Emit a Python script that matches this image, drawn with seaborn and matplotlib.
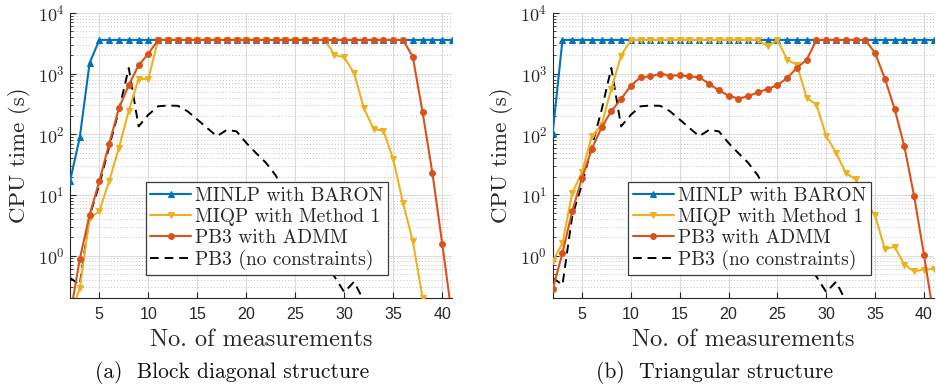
import numpy as np
import pandas as pd
import seaborn as sns
import matplotlib
matplotlib.use("Agg")
import matplotlib.pyplot as plt
from matplotlib.ticker import LogLocator, NullFormatter, FixedLocator

# ---------------- data ----------------
x_all = list(range(2, 42))

# (a) block diagonal structure
a_baron = [16.8, 89, 1500] + [3600] * 37
a_miqp_x = list(range(2, 39))
a_miqp = [0.1, 0.29, 4.2, 5.4, 17, 60, 245, 820, 820] + [3600] * 18 + \
         [2050, 1850, 1030, 270, 122, 115, 39, 7.4, 1.73, 0.2]
a_admm = [0.1, 0.88, 4.7, 17, 70, 270, 650, 1370, 2130] + [3600] * 26 + \
         [1890, 230, 23, 1.58, 0.1]
noc_x = list(range(2, 34))
noc = [0.43, 0.33, 4.5, 15, 63, 250, 1240, 135, 210, 290, 298, 295, 240,
       175, 127, 93, 118, 112, 72, 49, 34, 21, 10.5, 5.5, 2.8, 1.5, 0.8,
       0.45, 0.25, 0.37, 0.18, 0.08]

# (b) triangular structure
b_baron = [105] + [3600] * 39
b_miqp = [0.81, 1.6, 10.8, 23.6, 93, 144, 560, 1980] + [3600] * 14 + \
         [2820, 3600, 1700, 1400, 400, 310, 93, 50, 23, 18, 7.9, 4.6, 1.29,
          1.4, 0.71, 0.55, 0.59, 0.6]
b_admm = [0.28, 1.1, 5.4, 19, 57, 130, 240, 382, 635, 870, 900, 1000, 930,
          940, 900, 870, 685, 530, 434, 388, 423, 492, 558, 645, 850, 1240,
          1700] + [3600] * 6 + [2190, 830, 262, 63, 9.5, 1.04, 0.1]

labels = ["MINLP with BARON", "MIQP with Method 1", "PB3 with ADMM",
          "PB3 (no constraints)"]
captions = ["(a)  Block diagonal structure", "(b)  Triangular structure"]
xticks = [5, 10, 15, 20, 25, 30, 35, 40]

C_BLUE = "#0072BD"
C_RED = "#D95319"
C_YEL = "#EDB120"

# ---------------- style ----------------
sns.set_theme(style="white")
plt.rcParams["font.family"] = ["cmr10", "DejaVu Serif"]
plt.rcParams["mathtext.fontset"] = "custom"
plt.rcParams["mathtext.rm"] = "Liberation Sans"
plt.rcParams["mathtext.it"] = "Liberation Sans:italic"
plt.rcParams["mathtext.bf"] = "Liberation Sans:bold"
plt.rcParams["axes.formatter.use_mathtext"] = True

fig = plt.figure(figsize=(9.37, 3.86), dpi=100)
W, H = 937.0, 386.0
axes = [fig.add_axes([70 / W, 1 - 298 / H, 382 / W, 285 / H]),
        fig.add_axes([552.7 / W, 1 - 298 / H, 381 / W, 285 / H])]
caption_cx = [232 / W, 715 / W]

panels = [
    (a_baron, a_miqp_x, a_miqp, a_admm),
    (b_baron, x_all, b_miqp, b_admm),
]

for i, (ax, (baron, mx, miqp, admm)) in enumerate(zip(axes, panels)):
    ax.set_yscale("log")
    ax.set_ylim(0.2, 1e4)
    ax.set_xlim(2, 41)
    # grid
    ax.grid(True, which="major", axis="both", color="#dcdcdc", lw=0.8)
    ax.grid(True, which="minor", axis="y", color="#c4c4c4", lw=0.7,
            linestyle=(0, (1, 2.2)))
    ax.set_axisbelow(True)

    df_b = pd.DataFrame({"x": x_all, "y": baron})
    df_m = pd.DataFrame({"x": mx, "y": miqp})
    df_a = pd.DataFrame({"x": x_all[:len(admm)], "y": admm})
    df_n = pd.DataFrame({"x": noc_x, "y": noc})

    sns.lineplot(data=df_b, x="x", y="y", ax=ax, color=C_BLUE, lw=1.5,
                 marker="^", markersize=5, markeredgecolor=C_BLUE,
                 label=labels[0], zorder=3)
    sns.lineplot(data=df_m, x="x", y="y", ax=ax, color=C_YEL, lw=1.5,
                 marker="v", markersize=5, markeredgecolor=C_YEL,
                 label=labels[1], zorder=4)
    sns.lineplot(data=df_a, x="x", y="y", ax=ax, color=C_RED, lw=1.5,
                 marker="o", markersize=4.2, markeredgecolor=C_RED,
                 label=labels[2], zorder=5)
    sns.lineplot(data=df_n, x="x", y="y", ax=ax, color="black", lw=1.4,
                 linestyle=(0, (4.5, 3)), label=labels[3], zorder=2)

    for ln in ax.get_lines():
        ln.set_clip_on(True)

    # spines
    for s in ["top", "right"]:
        ax.spines[s].set_visible(False)
    for s in ["left", "bottom"]:
        ax.spines[s].set_color("#262626")
        ax.spines[s].set_linewidth(0.8)

    ax.xaxis.set_major_locator(FixedLocator(xticks))
    ax.yaxis.set_major_locator(LogLocator(base=10, numticks=10))
    ax.yaxis.set_minor_locator(LogLocator(base=10, subs=np.arange(2, 10),
                                          numticks=20))
    ax.yaxis.set_minor_formatter(NullFormatter())
    ax.tick_params(axis="both", which="major", direction="in", length=4,
                   width=0.8, color="#262626", pad=5)
    ax.tick_params(axis="x", which="major", labelsize=11.5, pad=6)
    ax.tick_params(axis="y", which="major", labelsize=13, pad=4)
    ax.tick_params(axis="y", which="minor", direction="in", length=2.2,
                   width=0.6, color="#262626", left=True)
    ax.tick_params(axis="x", which="major", bottom=True)
    ax.tick_params(axis="y", which="major", left=True)
    for t in ax.get_xticklabels():
        t.set_fontfamily("Liberation Sans")
        t.set_color("#262626")
    for t in ax.get_yticklabels():
        t.set_color("#262626")

    ax.set_xlabel("No. of measurements", fontsize=17.5, labelpad=5,
                  color="#262626")
    ax.set_ylabel("CPU time (s)", fontsize=16.5, labelpad=5, color="#262626")

    leg = ax.legend(loc="lower left", bbox_to_anchor=(0.198, 0.081),
                    borderaxespad=0, fontsize=14, frameon=True,
                    fancybox=False, edgecolor="#3a3a3a", framealpha=1,
                    handlelength=2.1, handletextpad=0.2, borderpad=0.25,
                    labelspacing=0.15)
    leg.get_frame().set_linewidth(0.9)
    for t in leg.get_texts():
        t.set_color("#262626")

    fig.text(caption_cx[i], 1 - 372 / H, captions[i], ha="center",
             va="center", fontsize=15.5, color="#111111")

fig.savefig("out.png", dpi=100)
